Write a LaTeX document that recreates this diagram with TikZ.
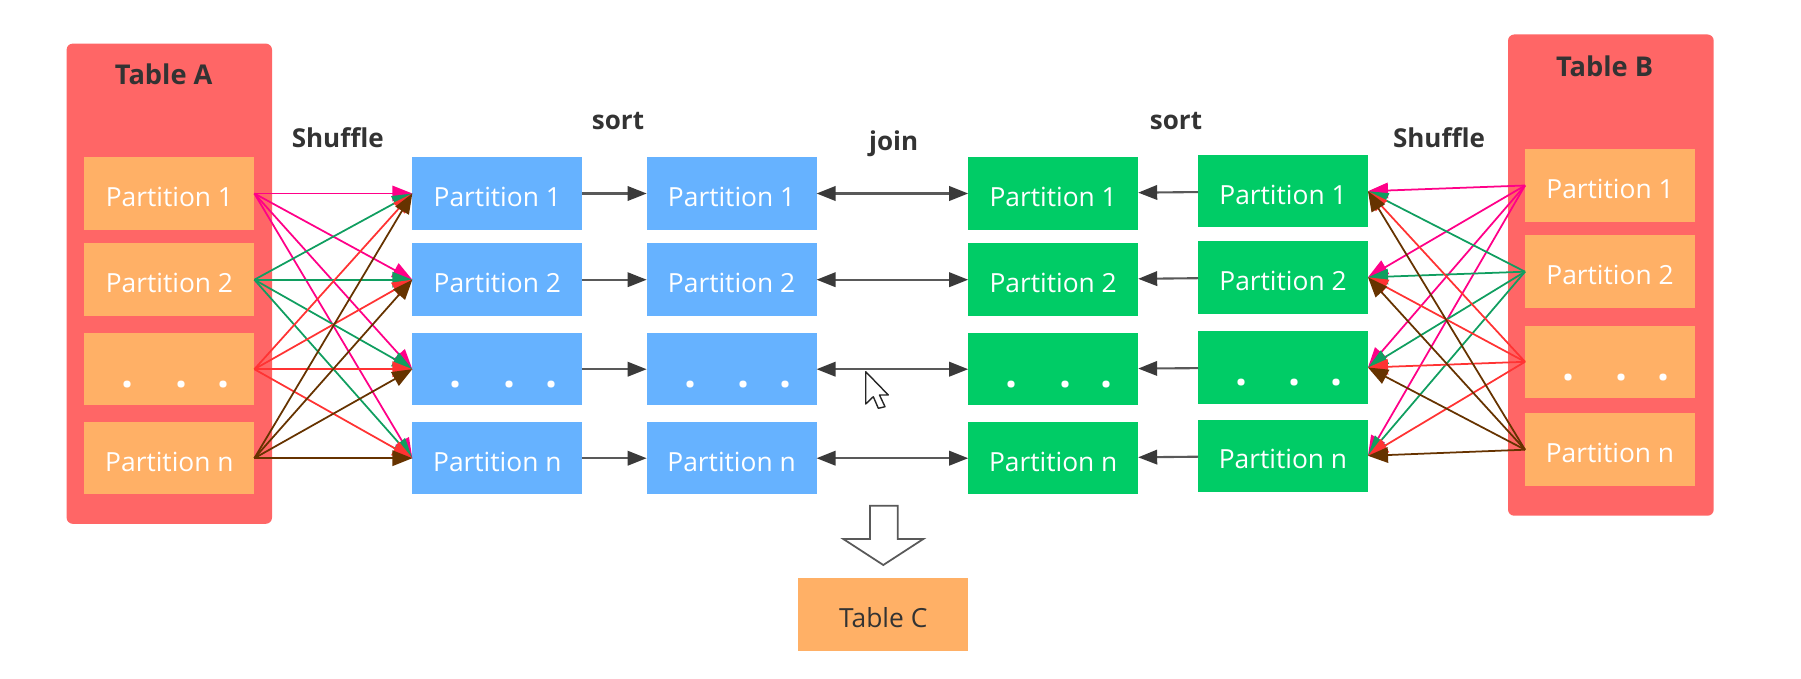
\documentclass[tikz,border=0pt]{standalone}
\usepackage{fontspec}
\setmainfont{Open Sans}
\usepackage{xcolor}
\definecolor{tablered}{RGB}{255,102,102}
\definecolor{partorange}{RGB}{255,176,102}
\definecolor{partblue}{RGB}{102,178,255}
\definecolor{partgreen}{RGB}{0,204,102}
\definecolor{dark}{RGB}{51,51,51}
\definecolor{pinkline}{RGB}{255,0,136}
\definecolor{greenline}{RGB}{16,158,96}
\definecolor{redline}{RGB}{255,51,51}
\definecolor{brownline}{RGB}{102,51,0}
\definecolor{headgray}{RGB}{58,58,58}
\usetikzlibrary{arrows.meta}
\tikzset{
    partbox/.style={minimum width=3.4cm, minimum height=1.45cm, inner sep=0pt, outer sep=0pt, text=white, font=\fontsize{15}{18}\selectfont, text height=15pt, text depth=0.3pt},
    dotsbox/.style={partbox, font=\fontsize{24}{24}\selectfont\bfseries, text height=21pt, text depth=0pt},
    tablebox/.style={rounded corners=3.5pt, fill=tablered},
    steplabel/.style={font=\fontsize{14.8}{18}\selectfont\bfseries, text=dark},
    tablelabel/.style={steplabel, font=\fontsize{15.5}{18}\selectfont\bfseries},
    shuffleline/.style={-{Triangle[length=4mm, width=3.1mm]}, line width=1pt},
    grayline/.style={draw=black!65, line width=1.2pt, -{Triangle[length=3.8mm, width=2.9mm, color=headgray]}},
    joinline/.style={grayline, {Triangle[length=3.8mm, width=2.9mm, color=headgray]}-{Triangle[length=3.8mm, width=2.9mm, color=headgray]}}
}
\newcommand{\partdots}{\hspace{7pt}.\hspace{23.5pt}.\hspace{17pt}.}

\begin{document}
\begin{tikzpicture}[x=0.02cm, y=-0.02cm]
        \useasboundingbox (0, 0) rectangle (1801, 679);

        % Table A
        \fill[tablebox] (66.6, 43.6) rectangle (272, 523.8);
        \node[tablelabel] (labelA) at (163.7, 74.7) {Table A};
        \node[partbox, fill=partorange] (pa1) at (169.4, 193.5) {Partition 1};
        \node[partbox, fill=partorange] (pa2) at (169.4, 279.7) {Partition 2};
        \node[dotsbox, fill=partorange] (pa3) at (169.4, 369.2) {\partdots};
        \node[partbox, fill=partorange] (pa4) at (169.4, 458.2) {Partition n};

        % Table B
        \fill[tablebox] (1508, 34.5) rectangle (1713.7, 515.7);
        \node[tablelabel] (labelB) at (1604.6, 66.6) {Table B};
        \node[partbox, fill=partorange] (pb1) at (1610, 185.5) {Partition 1};
        \node[partbox, fill=partorange] (pb2) at (1610, 271.7) {Partition 2};
        \node[dotsbox, fill=partorange] (pb3) at (1610, 361.8) {\partdots};
        \node[partbox, fill=partorange] (pb4) at (1610, 449.7) {Partition n};

        % Shuffled partitions
        \node[partbox, fill=partblue] (ba1) at (497.3, 193.5) {Partition 1};
        \node[partbox, fill=partblue] (ba2) at (497.3, 279.7) {Partition 2};
        \node[dotsbox, fill=partblue] (ba3) at (497.3, 369.2) {\partdots};
        \node[partbox, fill=partblue] (ba4) at (497.3, 458.2) {Partition n};

        \node[partbox, fill=partgreen] (ga1) at (1283, 191.2) {Partition 1};
        \node[partbox, fill=partgreen] (ga2) at (1283, 277.3) {Partition 2};
        \node[dotsbox, fill=partgreen] (ga3) at (1283, 367.5) {\partdots};
        \node[partbox, fill=partgreen] (ga4) at (1283, 455.8) {Partition n};

        % Sorted partitions
        \node[partbox, fill=partblue] (bb1) at (731.6, 193.5) {Partition 1};
        \node[partbox, fill=partblue] (bb2) at (731.6, 279.7) {Partition 2};
        \node[dotsbox, fill=partblue] (bb3) at (731.6, 369.2) {\partdots};
        \node[partbox, fill=partblue] (bb4) at (731.6, 458.2) {Partition n};

        \node[partbox, fill=partgreen] (gb1) at (1053.2, 193.5) {Partition 1};
        \node[partbox, fill=partgreen] (gb2) at (1053.2, 279.7) {Partition 2};
        \node[dotsbox, fill=partgreen] (gb3) at (1053.2, 369.2) {\partdots};
        \node[partbox, fill=partgreen] (gb4) at (1053.2, 458.2) {Partition n};

        % Step labels
        \node[steplabel] (shuffleA) at (337.7, 137.5) {Shuffle};
        \node[steplabel] (sortA) at (618, 121.5) {sort};
        \node[steplabel] (joinAB) at (893.6, 143.5) {join};
        \node[steplabel] (sortB) at (1176, 121.5) {sort};
        \node[steplabel] (shuffleB) at (1439, 137.5) {Shuffle};

        % Shuffle arrows
        \foreach \src/\col in {1/pinkline, 2/greenline, 3/redline, 4/brownline} {
            \foreach \dst in {1, 2, 3, 4} {
                \draw[shuffleline, \col] (pa\src.east) -- (ba\dst.west);
                \draw[shuffleline, \col] (pb\src.west) -- (ga\dst.east);
            }
        }

        % Sort and join arrows
        \foreach \row in {1, 2, 3, 4} {
            \draw[grayline] (ba\row) -- (bb\row);
            \draw[joinline] (bb\row) -- (gb\row);
            \draw[grayline] (ga\row) -- (gb\row);
        }

        % Result
        \draw[line width=1pt, draw=black!65, fill=white] (870, 505.7) -- (897.7, 505.7) -- (897.7, 539) -- (923.3, 539) -- (883.3, 565) -- (843.3, 539) -- (870, 539) -- cycle;
        \node[partbox, fill=partorange, text=dark] (tableC) at (883.3, 614.5) {Table C};

        % Mouse pointer
        \draw[line width=0.8pt, draw=black!85, fill=white, line join=round] (865.7, 371.7) -- (888.3, 395) -- (879.5, 395) -- (885, 406.7) -- (878.3, 408.3) -- (873.3, 396.7) -- (865.7, 404) -- cycle;
    \end{tikzpicture}
\end{document}
